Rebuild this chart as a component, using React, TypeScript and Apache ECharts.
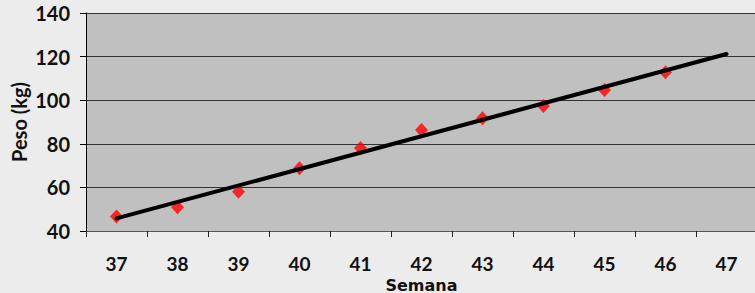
import React, { useEffect, useRef } from "react";
import * as echarts from "echarts";

const weeks = ["37", "38", "39", "40", "41", "42", "43", "44", "45", "46", "47"];
const weights = [46.6, 50.9, 58.0, 68.8, 78.1, 86.3, 91.7, 97.3, 104.7, 112.8, null];
const trendWeeks = ["37", "47"];
const trendValues = [45.8, 121.2];
const yTicks = { min: 40, max: 140, interval: 20 };

const FONT = "Lato, 'Open Sans', sans-serif";

export default function App() {
  const ref = useRef<HTMLDivElement>(null);
  useEffect(() => {
    if (!ref.current) return;
    const chart = echarts.init(ref.current, undefined, { renderer: "svg" });
    chart.setOption({
      animation: false,
      backgroundColor: "#ECECEC",
      grid: {
        left: 86, top: 13, right: -2, bottom: 62,
        show: true, backgroundColor: "#C0C0C0", borderWidth: 0,
        containLabel: false, outerBoundsMode: "none",
      },
      xAxis: {
        type: "category",
        data: weeks,
        boundaryGap: true,
        name: "Semana",
        nameLocation: "middle",
        nameGap: 54,
        nameMoveOverlap: false,
        nameTextStyle: { fontFamily: "'DejaVu Sans', sans-serif", fontWeight: "bold", fontSize: 16, lineHeight: 16, color: "#111", verticalAlign: "middle" },
        axisLine: { show: true, lineStyle: { color: "#555", width: 1 } },
        axisTick: { show: true, alignWithLabel: false, length: 6, inside: false, lineStyle: { color: "#222" } },
        axisLabel: { margin: 23, fontFamily: FONT, fontWeight: "bold", fontSize: 19, lineHeight: 19, color: "#111" },
        splitLine: { show: false },
      },
      yAxis: {
        type: "value",
        min: yTicks.min,
        max: yTicks.max,
        interval: yTicks.interval,
        name: "Peso (kg)",
        nameLocation: "middle",
        nameGap: 67,
        nameMoveOverlap: false,
        nameRotate: 90,
        nameTextStyle: { fontFamily: FONT, fontWeight: "bold", fontSize: 20, color: "#111", verticalAlign: "middle" },
        axisLine: { show: true, lineStyle: { color: "#000", width: 1 } },
        axisTick: { show: true, length: 6, lineStyle: { color: "#000" } },
        axisLabel: { margin: 16, fontFamily: FONT, fontWeight: "bold", fontSize: 20, color: "#111" },
        splitLine: { show: true, lineStyle: { color: "#333", width: 1 } },
      },
      series: [
        {
          type: "scatter",
          data: weights,
          symbol: "diamond",
          symbolSize: [13, 14],
          itemStyle: { color: "#FF0000" },
          z: 2,
        },
        {
          type: "line",
          data: trendWeeks.map((w, i) => [w, trendValues[i]]),
          symbol: "none",
          lineStyle: { color: "#000", width: 4, cap: "round" },
          z: 3,
        },
      ],
    });
    return () => chart.dispose();
  }, []);
  return <div ref={ref} style={{ position: "absolute", left: 0, top: 0, width: 755, height: 293 }} />;
}
